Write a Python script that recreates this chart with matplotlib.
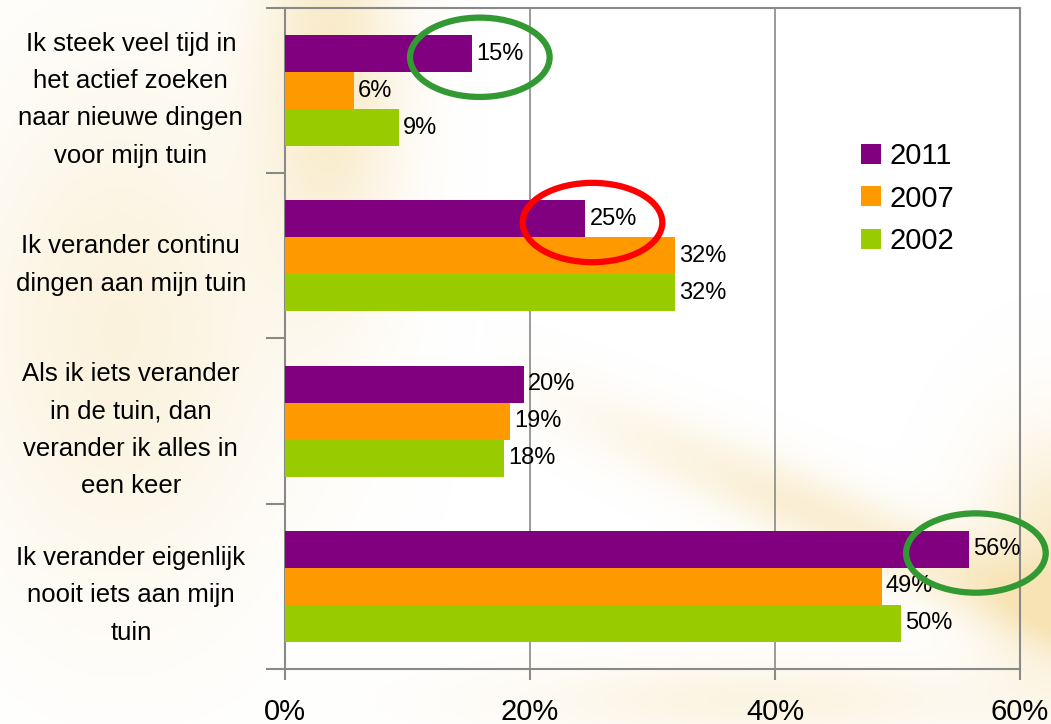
import matplotlib.pyplot as plt
from matplotlib.patches import Ellipse
import numpy as np

plt.rcParams['font.family'] = ['Liberation Sans', 'DejaVu Sans']

categories = [
    "Ik steek veel tijd in\nhet actief zoeken\nnaar nieuwe dingen\nvoor mijn tuin",
    "Ik verander continu\ndingen aan mijn tuin",
    "Als ik iets verander\nin de tuin, dan\nverander ik alles in\neen keer",
    "Ik verander eigenlijk\nnooit iets aan mijn\ntuin",
]
years = ["2011", "2007", "2002"]
v2011 = [15.3, 24.5, 19.5, 55.8]
v2007 = [5.6, 31.8, 18.4, 48.7]
v2002 = [9.3, 31.8, 17.9, 50.3]
labels2011 = ["15%", "25%", "20%", "56%"]
labels2007 = ["6%", "32%", "19%", "49%"]
labels2002 = ["9%", "32%", "18%", "50%"]
colors = ["#800080", "#ff9900", "#99cc00"]

# highlighted 2011 values: (category index, colour)
highlights = [(0, "#339933"), (1, "#ff0000"), (3, "#339933")]

fig = plt.figure(figsize=(10.51, 7.24), dpi=100)
fig.patch.set_facecolor("white")

# soft cream glow in the background
bg = fig.add_axes([0, 0, 1, 1], zorder=-10)
bg.axis("off")
h, w = 724, 1051
yy, xx = np.mgrid[0:h, 0:w]
glow = np.zeros((h, w))
glow += 0.55 * np.exp(-((xx - 330) / 70.0) ** 2 - ((yy - 60) / 220.0) ** 2)
glow += 0.35 * np.exp(-((xx - 120) / 160.0) ** 2 - ((yy - 330) / 260.0) ** 2)
d = (yy - 380) - (xx - 500) * 0.42
glow += 0.45 * np.exp(-(d / 40.0) ** 2) * np.clip((xx - 480) / 300.0, 0, 1)
glow += 0.6 * np.exp(-((xx - 1060) / 80.0) ** 2 - ((yy - 560) / 120.0) ** 2)
glow += 0.3 * np.exp(-((xx - 760) / 250.0) ** 2 - ((yy - 700) / 40.0) ** 2)
glow = np.clip(glow, 0, 0.8)
img = np.zeros((h, w, 4))
img[..., 0] = 245 / 255
img[..., 1] = 220 / 255
img[..., 2] = 160 / 255
img[..., 3] = glow
bg.imshow(img, extent=[0, 1, 0, 1], aspect="auto")
bg.set_xlim(0, 1)
bg.set_ylim(0, 1)

ax = fig.add_axes([0.2712, 0.076, 0.6993, 0.913])
ax.patch.set_alpha(0)

y = np.arange(len(categories))
bh = 0.224
series = [(v2011, labels2011), (v2007, labels2007), (v2002, labels2002)]
for i, (vals, labs) in enumerate(series):
    pos = y + (i - 1) * bh
    ax.barh(pos, vals, height=bh, color=colors[i], label=years[i], zorder=3)
    for p, v, t in zip(pos, vals, labs):
        ax.text(v + 0.35, p, t, va="center", ha="left", fontsize=17, zorder=5)

for idx, col in highlights:
    e = Ellipse((v2011[idx] + 0.6, idx - bh * 0.9), width=11.4, height=0.48,
                fill=False, edgecolor=col, linewidth=4.5, zorder=6,
                clip_on=False)
    ax.add_patch(e)

ax.set_xlim(0, 60)
ax.set_ylim(3.5, -0.5)
ax.set_xticks([0, 20, 40, 60])
ax.set_xticklabels(["0%", "20%", "40%", "60%"], fontsize=21)
ax.set_yticks([-0.5, 0.5, 1.5, 2.5, 3.5])
ax.set_yticklabels([])
ax.set_yticks(y, minor=True)
ax.set_yticklabels(categories, minor=True, fontsize=18.5, ha="center",
                   multialignment="center", linespacing=1.7)
ax.tick_params(axis="y", which="minor", length=0, pad=111)
ax.tick_params(axis="y", which="major", length=14, color="#898989", width=1.5)
ax.tick_params(axis="x", length=8, color="#898989", width=1.5, pad=13)

ax.grid(axis="x", color="#898989", linewidth=1.2, zorder=0)
for s in ax.spines.values():
    s.set_color("#898989")
    s.set_linewidth(1.5)

ax.legend(loc="upper left", bbox_to_anchor=(0.768, 0.815), frameon=False,
          fontsize=21, handlelength=0.68, handleheight=0.68,
          handletextpad=0.3, labelspacing=0.5, borderaxespad=0)

fig.savefig("out.png", dpi=100)
